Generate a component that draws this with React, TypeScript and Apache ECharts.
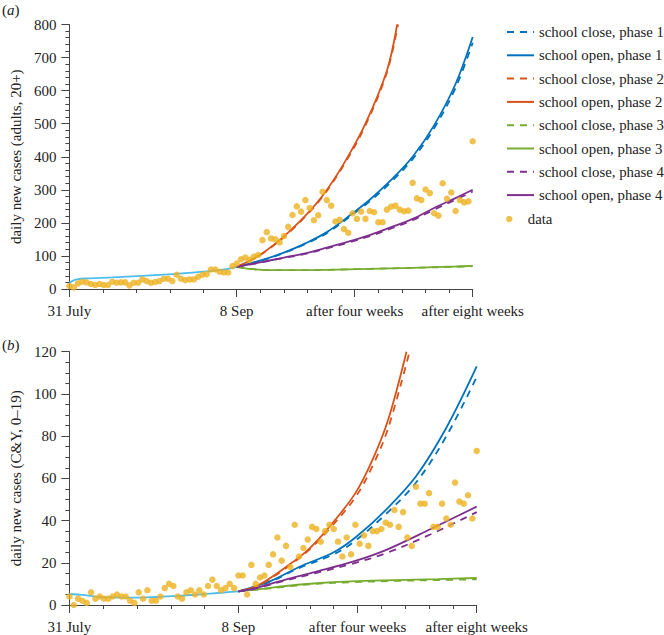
import React, { useEffect, useRef } from 'react';
import * as echarts from 'echarts';

// ---------- tick labels ----------
const xTickLabels = ['31 July', '8 Sep', 'after four weeks', 'after eight weeks'];
const xLabelDays = [0, 39, 66.5, 94];
const xMinorDays = [0, 7.8, 15.6, 23.4, 31.2, 39, 44.5, 50, 55.5, 61, 66.5, 72, 77.5, 83, 88.5, 94];

const legendNames = [
  'school close, phase 1', 'school open, phase 1',
  'school close, phase 2', 'school open, phase 2',
  'school close, phase 3', 'school open, phase 3',
  'school close, phase 4', 'school open, phase 4',
];

// ---------- panel (a): adults 20+ ----------
const dataTop = [9, 5, 17, 22, 20, 15, 12, 15, 12, 12, 22, 19, 20, 20, 11, 19, 19, 29, 24, 19,
  21, 24, 31, 31, 24, 43, 31, 27, 29, 29, 37, 43, 45, 59, 59, 52, 50, 50, 69, 77,
  90, 95, 88, 98, 103, 148, 172, 153, 150, 141, 160, 188, 224, 250, 234, 269, 245, 208, 223, 294,
  269, 252, 204, 209, 181, 170, 229, 212, 234, 212, 236, 232, 202, 202, 240, 249, 252, 240, 235, 237,
  321, 274, 269, 301, 290, 229, 222, 320, 273, 292, 236, 269, 262, 265, 447];

const fitTopX = [0, 1, 2, 4, 10, 17, 25, 32, 36, 39];
const fitTopY = [18, 26, 30, 32, 35, 40, 46, 53, 59, 67];

const p1TopX = [39, 45, 50, 55, 60, 66, 70, 75, 80, 85, 90, 94];
const p1OpenTop = [67, 88, 110, 138, 172, 229, 270, 330, 400, 495, 620, 762];
const p1CloseTop = [67, 87, 109, 136, 169, 225, 265, 324, 393, 486, 608, 745];

const p2TopX = [39, 44, 49, 54, 59, 64, 69, 74, 76.4];
const p2OpenTop = [67, 100, 148, 208, 282, 380, 500, 660, 800];
const p2CloseTopX = [39, 44, 49, 54, 59, 64, 69, 74, 76.6];
const p2CloseTop = [67, 99, 146, 206, 279, 376, 495, 655, 800];

const p3TopX = [39, 42, 45, 50, 55, 60, 70, 80, 90, 94];
const p3OpenTop = [67, 61, 58, 57, 57, 58, 61, 64, 68, 70];
const p3CloseTop = [67, 61, 58, 57, 57, 58, 61, 64, 67, 69];

const p4TopX = [39, 45, 50, 55, 60, 65, 70, 75, 80, 85, 90, 94];
const p4OpenTop = [67, 82, 95, 108, 125, 143, 163, 187, 212, 245, 275, 300];
const p4CloseTop = [67, 81, 94, 106, 123, 140, 160, 183, 208, 240, 270, 295];

// ---------- panel (b): C&Y 0-19 ----------
const dataBottom = [4, 0, 3, 2, 1, 6, 3, 4, 3, 3, 4, 5, 4, 4, 2, 1, 6, 3, 7, 2,
  2, 4, 8, 10, 9, 4, 3, 6, 7, 5, 7, 5, 9, 12, 9, 7, 8, 10, 8,
  14, 14, 5, 19, 10, 13, 14, 19, 24, 32, 21, 28, 18, 38, 23, 27, 31, 37, 36, 30,
  35, 38, 36, 30, 23, 32, 24, 38, 29, 33, 28, 35, 35, 36, 39, 38, 45, 37, 44, 32,
  28, 56, 48, 48, 53, 37, 37, 48, 41, 38, 58, 49, 48, 52, 41, 73];

const fitBottomX = [0, 3, 6, 10, 15, 20, 25, 30, 35, 39];
const fitBottomY = [5.2, 4.8, 4.0, 3.6, 3.5, 3.8, 4.3, 5.0, 5.8, 6.5];

const p1BotX = [39, 46, 53, 61, 66, 73, 80, 87, 94];
const p1OpenBot = [6.5, 11, 18, 25, 32, 45, 61, 84, 113];
const p1CloseBot = [6.5, 10.7, 17.5, 24, 30.5, 43, 58, 80, 108];

const p2OpenBotX = [39, 42, 45, 50, 55, 60, 66, 70, 73.6, 77.8];
const p2OpenBot = [6.5, 8, 11, 18, 26, 37, 53, 69, 88, 120];
const p2CloseBotX = [39, 42, 45, 50, 55, 60, 66, 70, 73.6, 78.5];
const p2CloseBot = [6.5, 7.8, 10.8, 17.5, 25.5, 36, 51, 66, 84, 120];

const p3BotX = [39, 45, 50, 57, 65, 75, 85, 94];
const p3OpenBot = [6.5, 7.8, 9, 10.3, 11.2, 11.8, 12.3, 12.8];
const p3CloseBot = [6.5, 7.6, 8.7, 10, 10.8, 11.4, 11.8, 12.2];

const p4BotX = [39, 42, 49.5, 57, 65.4, 73, 83.4, 94];
const p4OpenBot = [6.5, 7.5, 11.8, 15.8, 20.5, 26, 36, 46.6];
const p4CloseBot = [6.5, 7.3, 11.4, 15.2, 19.6, 24.5, 33.5, 44];

const FONT = "'Liberation Serif', 'Times New Roman', 'DejaVu Serif', serif";
const TICK_FS = 15;
const COL = {
  blue: '#0072BD', orange: '#D95319', green: '#77AC30', purple: '#7E2F8E',
  yellow: '#EDB120', fit: '#4DBEEE', axis: '#444', text: '#222',
};

const zip = (xs: number[], ys: number[]) => xs.map((x, i) => [x, ys[i]]);

function lineSeries(name: string, color: string, dashed: boolean, xs: number[], ys: number[], panel: number) {
  return {
    type: 'line', name, xAxisIndex: panel * 2, yAxisIndex: panel,
    data: zip(xs, ys), symbol: 'none', smooth: 0.35,
    lineStyle: { color, width: 1.8, type: dashed ? [7, 6] : 'solid' },
    itemStyle: { color }, z: 2,
  };
}

function xAxesFor(grid: number) {
  return [
    {
      type: 'value', gridIndex: grid, min: 0, max: 94, position: 'bottom',
      axisLine: { show: true, lineStyle: { color: COL.axis, width: 1 } },
      axisTick: { show: true, customValues: xMinorDays, length: 4, lineStyle: { color: COL.axis } },
      axisLabel: { show: false }, splitLine: { show: false },
    },
    {
      type: 'value', gridIndex: grid, min: 0, max: 94, position: 'bottom',
      axisLine: { show: false },
      axisTick: { show: true, customValues: xLabelDays, length: 8, lineStyle: { color: COL.axis } },
      axisLabel: {
        show: true, customValues: xLabelDays, margin: 14, showMinLabel: true, showMaxLabel: true,
        color: COL.text, fontFamily: FONT, fontSize: TICK_FS,
        formatter: (v: number) => {
          const i = xLabelDays.findIndex((d) => Math.abs(d - v) < 1e-6);
          return i >= 0 ? xTickLabels[i] : '';
        },
      },
      splitLine: { show: false },
    },
  ];
}

function yAxisFor(grid: number, max: number, interval: number, minorSplit: number, name: string) {
  return {
    type: 'value', gridIndex: grid, min: 0, max, interval,
    name, nameLocation: 'middle', nameGap: 43,
    nameTextStyle: { fontFamily: FONT, fontSize: 15, color: COL.text },
    axisLine: { show: true, lineStyle: { color: COL.axis, width: 1 } },
    axisTick: { show: true, length: 8, lineStyle: { color: COL.axis } },
    minorTick: { show: true, splitNumber: minorSplit, length: 4, lineStyle: { color: COL.axis } },
    axisLabel: { color: COL.text, fontFamily: FONT, fontSize: TICK_FS, margin: 13 },
    splitLine: { show: false },
  };
}

export default function App() {
  const ref = useRef<HTMLDivElement>(null);
  useEffect(() => {
    if (!ref.current) return;
    const chart = echarts.init(ref.current, undefined, { renderer: 'svg' });
    const series: any[] = [];
    // panel a
    series.push({
      type: 'line', name: 'fit', xAxisIndex: 0, yAxisIndex: 0, data: zip(fitTopX, fitTopY),
      symbol: 'none', smooth: 0.35, lineStyle: { color: COL.fit, width: 1.8 }, z: 2,
    });
    series.push(lineSeries(legendNames[0], COL.blue, true, p1TopX, p1CloseTop, 0));
    series.push(lineSeries(legendNames[1], COL.blue, false, p1TopX, p1OpenTop, 0));
    series.push(lineSeries(legendNames[2], COL.orange, true, p2CloseTopX, p2CloseTop, 0));
    series.push(lineSeries(legendNames[3], COL.orange, false, p2TopX, p2OpenTop, 0));
    series.push(lineSeries(legendNames[4], COL.green, true, p3TopX, p3CloseTop, 0));
    series.push(lineSeries(legendNames[5], COL.green, false, p3TopX, p3OpenTop, 0));
    series.push(lineSeries(legendNames[6], COL.purple, true, p4TopX, p4CloseTop, 0));
    series.push(lineSeries(legendNames[7], COL.purple, false, p4TopX, p4OpenTop, 0));
    series.push({
      type: 'scatter', name: 'data', xAxisIndex: 0, yAxisIndex: 0,
      data: dataTop.map((v, i) => [i, v]), symbol: 'circle', symbolSize: 6.5,
      itemStyle: { color: COL.yellow }, z: 3,
    });
    // panel b
    series.push({
      type: 'line', name: 'fit', xAxisIndex: 2, yAxisIndex: 1, data: zip(fitBottomX, fitBottomY),
      symbol: 'none', smooth: 0.35, lineStyle: { color: COL.fit, width: 1.8 }, z: 2,
    });
    series.push(lineSeries(legendNames[0], COL.blue, true, p1BotX, p1CloseBot, 1));
    series.push(lineSeries(legendNames[1], COL.blue, false, p1BotX, p1OpenBot, 1));
    series.push(lineSeries(legendNames[2], COL.orange, true, p2CloseBotX, p2CloseBot, 1));
    series.push(lineSeries(legendNames[3], COL.orange, false, p2OpenBotX, p2OpenBot, 1));
    series.push(lineSeries(legendNames[4], COL.green, true, p3BotX, p3CloseBot, 1));
    series.push(lineSeries(legendNames[5], COL.green, false, p3BotX, p3OpenBot, 1));
    series.push(lineSeries(legendNames[6], COL.purple, true, p4BotX, p4CloseBot, 1));
    series.push(lineSeries(legendNames[7], COL.purple, false, p4BotX, p4OpenBot, 1));
    series.push({
      type: 'scatter', name: 'data', xAxisIndex: 2, yAxisIndex: 1,
      data: dataBottom.map((v, i) => [i, v]), symbol: 'circle', symbolSize: 6.5,
      itemStyle: { color: COL.yellow }, z: 3,
    });

    const legendText = { fontFamily: FONT, fontSize: 14.8, lineHeight: 16, color: COL.text };
    chart.setOption({
      animation: false,
      backgroundColor: '#fff',
      grid: [
        { left: 61, top: 24.5, width: 411.7, height: 264.5 },
        { left: 61, top: 351.7, width: 415.7, height: 253.3 },
      ],
      xAxis: [...xAxesFor(0), ...xAxesFor(1)],
      yAxis: [
        yAxisFor(0, 800, 100, 5, 'daily new cases (adults, 20+)'),
        yAxisFor(1, 120, 20, 4, 'daily new cases (C&Y, 0–19)'),
      ],
      legend: [
        {
          data: legendNames, orient: 'vertical', left: 506, top: 24, width: 200, padding: 0,
          itemWidth: 27, itemHeight: 10, itemGap: 7.3, selectedMode: false,
          itemStyle: { opacity: 0 },
          textStyle: legendText,
        },
        {
          data: [{ name: 'data', icon: 'circle' }], orient: 'vertical', left: 506, top: 211, width: 200, padding: 0,
          itemWidth: 27, itemHeight: 6.5, selectedMode: false,
          textStyle: legendText,
        },
      ],
      graphic: [
        {
          type: 'text', left: 2, top: 2,
          style: { text: '({i|a})', font: `15px ${FONT}`, fill: COL.text, rich: { i: { fontStyle: 'italic', fontFamily: FONT, fontSize: 15 } } },
        },
        {
          type: 'text', left: 2, top: 337,
          style: { text: '({i|b})', font: `15px ${FONT}`, fill: COL.text, rich: { i: { fontStyle: 'italic', fontFamily: FONT, fontSize: 15 } } },
        },
      ],
      series,
    });
    return () => chart.dispose();
  }, []);
  return <div ref={ref} style={{ position: 'fixed', left: 0, top: 0, width: 664, height: 635 }} />;
}
